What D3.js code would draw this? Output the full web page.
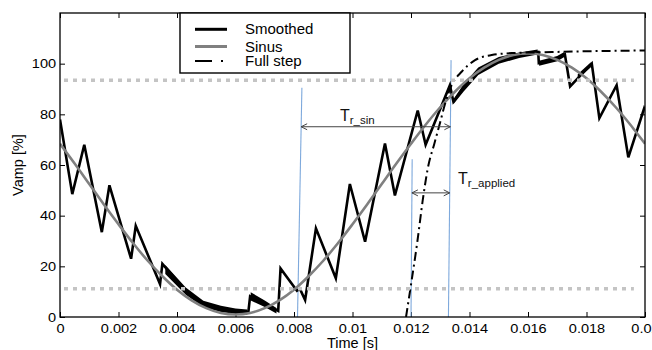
<!DOCTYPE html>
<html>
<head>
<meta charset="utf-8">
<script src="https://cdn.jsdelivr.net/npm/d3@7"></script>
<style>
  body { margin: 0; background: #fff; }
  svg { font-family: "Liberation Sans", Arial, Helvetica, sans-serif; }
</style>
</head>
<body>
<div id="chart"></div>
<script>
const xTicks = [0, 0.002, 0.004, 0.006, 0.008, 0.01, 0.012, 0.014, 0.016, 0.018, 0.02]
const yTicks = [0, 20, 40, 60, 80, 100]

const sinusT = [0, 0.0005, 0.001, 0.0015, 0.002, 0.0025, 0.003, 0.0035, 0.004, 0.0045,
    0.005, 0.0055, 0.006, 0.0065, 0.007, 0.0075, 0.008, 0.0085, 0.009, 0.0095,
    0.01, 0.0105, 0.011, 0.0115, 0.012, 0.0125, 0.013, 0.0135, 0.014, 0.0145,
    0.015, 0.0155, 0.016, 0.0165, 0.017, 0.0175, 0.018, 0.0185, 0.019, 0.0195, 0.02]
const sinusV = [68.4, 60.6, 52.5, 44.4, 36.6, 29.1, 22.2, 16.1, 10.8, 6.6,
    3.5, 1.6, 1.0, 1.6, 3.5, 6.6, 10.8, 16.1, 22.2, 29.1,
    36.6, 44.4, 52.5, 60.6, 68.4, 75.9, 82.8, 88.9, 94.2, 98.4,
    101.5, 103.4, 104.0, 103.4, 101.5, 98.4, 94.2, 88.9, 82.8, 75.9, 68.4]

const smoothedT = [0, 0.00042, 0.00083, 0.00143, 0.00169, 0.00243, 0.00259, 0.00342, 0.0035, 0.00376,
    0.0043, 0.0049, 0.0055, 0.006, 0.00644, 0.0065, 0.007, 0.00746, 0.00754, 0.0081,
    0.0082, 0.00838, 0.00875, 0.00943, 0.00991, 0.01043, 0.01111, 0.01145, 0.01223, 0.0125,
    0.01333, 0.01345, 0.0138, 0.0143, 0.015, 0.0157, 0.01635, 0.01637, 0.017, 0.01726,
    0.01744, 0.01818, 0.01844, 0.01903, 0.01943, 0.01997, 0.02]
const smoothedV = [78, 48.5, 68, 33.5, 52, 23, 36, 13, 21, 17.5,
    10.2, 5.1, 3.2, 2.3, 2.0, 8.2, 5.2, 2.4, 19.2, 10.4,
    11.2, 6.7, 35, 15.3, 52.5, 29.7, 68.5, 48, 81.5, 68,
    91.5, 85, 90.5, 97, 101.3, 103.3, 104.6, 100.2, 102, 103.7,
    91, 100, 78.5, 91.5, 63, 82.3, 81.5]

// noisy stretches of the smoothed trace: [t, low, high]
const noiseBands = [
    [[0.0036, 17, 20.5], [0.0043, 8.8, 11.6], [0.0049, 3.8, 6.4], [0.0055, 2.0, 4.4], [0.006, 1.2, 3.4], [0.0064, 0.9, 3.0]],
    [[0.00652, 6.5, 9.8], [0.007, 3.9, 6.5], [0.0074, 1.4, 3.6]],
    [[0.01345, 84, 86], [0.0138, 89, 92], [0.0143, 95.5, 98.5], [0.015, 100, 102.6], [0.0157, 102.2, 104.4], [0.01633, 103.6, 105.6]],
    [[0.01638, 99.2, 101.2], [0.017, 101, 103], [0.01724, 102.6, 104.6]],
    [[0.0177, 94, 95.8], [0.01815, 98.6, 100.6]]
]

const fullStepT = [0.01183, 0.01199, 0.01222, 0.0124, 0.01258, 0.0128, 0.013, 0.01316, 0.01339, 0.01373,
    0.01419, 0.01476, 0.0155, 0.0165, 0.018, 0.02]
const fullStepV = [0, 12, 30, 46, 59, 68.5, 77, 84, 91.5, 96.8,
    101.4, 103.4, 104.2, 104.5, 104.9, 105.2]

const thresholds = [11.2, 93.5]

// blue marker lines: bottom time, top time, top value
const markerBottomT = [0.00812, 0.01328, 0.012]
const markerTopT = [0.00827, 0.01337, 0.01204]
const markerTopV = [90.5, 101.4, 62.3]

const legendLabels = ['Smoothed', 'Sinus', 'Full step']

const width = 652
const height = 350
const margin = { top: 13, right: 7, bottom: 33, left: 60 }

const svg = d3.select('#chart')
    .append('svg')
    .attr('width', width)
    .attr('height', height)

const x = d3.scaleLinear().domain([0, 0.02]).range([margin.left, width - margin.right])
const y = d3.scaleLinear().domain([0, 120]).range([height - margin.bottom, margin.top])

const fmt = d3.format('~g')
const stretch = 'scale(1.12,1)'

svg.append('defs').append('clipPath')
    .attr('id', 'plot')
    .append('rect')
    .attr('x', x(0)).attr('y', y(120))
    .attr('width', x(0.02) - x(0)).attr('height', y(0) - y(120))

// axes
svg.append('g')
    .attr('transform', `translate(0,${y(0)})`)
    .call(d3.axisBottom(x).tickValues(xTicks).tickFormat(fmt).tickSizeInner(-5).tickSizeOuter(0).tickPadding(7))
    .call(g => g.select('.domain').remove())
    .call(g => g.selectAll('text').attr('font-size', 13).attr('fill', '#000').attr('transform', stretch))

svg.append('g')
    .attr('transform', `translate(${x(0)},0)`)
    .call(d3.axisLeft(y).tickValues(yTicks).tickSizeInner(-5).tickSizeOuter(0).tickPadding(3.5))
    .call(g => g.select('.domain').remove())
    .call(g => g.selectAll('text').attr('font-size', 13).attr('fill', '#000').attr('transform', stretch))

svg.append('g')
    .attr('transform', `translate(0,${y(120)})`)
    .call(d3.axisTop(x).tickValues(xTicks).tickFormat('').tickSizeInner(-5).tickSizeOuter(0))
    .call(g => g.select('.domain').remove())

svg.append('g')
    .attr('transform', `translate(${x(0.02)},0)`)
    .call(d3.axisRight(y).tickValues(yTicks).tickFormat('').tickSizeInner(-5).tickSizeOuter(0))
    .call(g => g.select('.domain').remove())

svg.selectAll('.tick line').attr('stroke', '#000').attr('stroke-width', 1)

const plot = svg.append('g').attr('clip-path', 'url(#plot)')

// blue marker lines
plot.selectAll('.marker')
    .data(markerBottomT)
    .enter()
    .append('line')
    .attr('x1', d => x(d))
    .attr('y1', y(0))
    .attr('x2', (d, i) => x(markerTopT[i]))
    .attr('y2', (d, i) => y(markerTopV[i]))
    .attr('stroke', '#7ea9dc')
    .attr('stroke-width', 1.1)

// smoothed trace
plot.selectAll('.band')
    .data(noiseBands)
    .enter()
    .append('path')
    .attr('d', d3.area().x(d => x(d[0])).y0(d => y(d[1])).y1(d => y(d[2])))
    .attr('fill', '#000')

plot.append('path')
    .datum(smoothedT.map((t, i) => [t, smoothedV[i]]))
    .attr('d', d3.line().x(d => x(d[0])).y(d => y(d[1])))
    .attr('fill', 'none')
    .attr('stroke', '#000')
    .attr('stroke-width', 2.6)

// sinus
plot.append('path')
    .datum(sinusT.map((t, i) => [t, sinusV[i]]))
    .attr('d', d3.line().curve(d3.curveCatmullRom).x(d => x(d[0])).y(d => y(d[1])))
    .attr('fill', 'none')
    .attr('stroke', '#808080')
    .attr('stroke-width', 2.6)

// full step
plot.append('path')
    .datum(fullStepT.map((t, i) => [t, fullStepV[i]]))
    .attr('d', d3.line().curve(d3.curveMonotoneX).x(d => x(d[0])).y(d => y(d[1])))
    .attr('fill', 'none')
    .attr('stroke', '#000')
    .attr('stroke-width', 2)
    .attr('stroke-dasharray', '9,4,2,4')

// 10% / 90% levels
plot.selectAll('.level')
    .data(thresholds)
    .enter()
    .append('line')
    .attr('x1', x(0) + 4)
    .attr('x2', x(0.01962))
    .attr('y1', d => y(d))
    .attr('y2', d => y(d))
    .attr('stroke', '#c4c4c4')
    .attr('stroke-width', 3.5)
    .attr('stroke-dasharray', '4,5')

// rise time arrows
function xAt(i, v) {
    return x(markerBottomT[i] + (markerTopT[i] - markerBottomT[i]) * v / markerTopV[i])
}

const arrows = [{ from: 0, to: 1, v: 75.1 }, { from: 2, to: 1, v: 49 }]
arrows.forEach(a => {
    const x1 = xAt(a.from, a.v)
    const x2 = xAt(a.to, a.v)
    const yy = y(a.v)
    const g = svg.append('g')
        .attr('fill', 'none')
        .attr('stroke', '#444')
        .attr('stroke-width', 1)
    g.append('line')
        .attr('x1', x1).attr('x2', x2)
        .attr('y1', yy).attr('y2', yy)
    g.append('path').attr('d', `M${x1 + 6},${yy - 3}L${x1},${yy}L${x1 + 6},${yy + 3}`)
    g.append('path').attr('d', `M${x2 - 6},${yy - 3}L${x2},${yy}L${x2 - 6},${yy + 3}`)
})

function label(px, py, sub) {
    const t = svg.append('text')
        .attr('x', px)
        .attr('y', py)
        .attr('font-size', 16)
        .attr('fill', '#111')
    t.append('tspan').text('T')
    t.append('tspan').attr('font-size', 11.5).attr('dy', 3.2).text(sub)
}
label(x(0.00957), y(77.3), 'r_sin')
label(x(0.01361), y(52.6), 'r_applied')

// frame
svg.append('rect')
    .attr('x', x(0))
    .attr('y', y(120))
    .attr('width', x(0.02) - x(0))
    .attr('height', y(0) - y(120))
    .attr('fill', 'none')
    .attr('stroke', '#000')
    .attr('stroke-width', 1.3)

// axis titles
svg.append('text')
    .attr('x', (x(0) + x(0.02)) / 2)
    .attr('y', height - 2)
    .attr('text-anchor', 'middle')
    .attr('font-size', 14.5)
    .text('Time [s]')

svg.append('text')
    .attr('transform', `translate(23,${(y(0) + y(120)) / 2}) rotate(-90)`)
    .attr('text-anchor', 'middle')
    .attr('font-size', 14.5)
    .text('Vamp [%]')

// legend
const legend = svg.append('g').attr('transform', 'translate(180,13)')
legend.append('rect')
    .attr('width', 170)
    .attr('height', 60)
    .attr('fill', '#fff')
    .attr('stroke', '#000')
    .attr('stroke-width', 1.4)

const legendRows = [16.3, 33.5, 48]
const legendStroke = ['#000', '#808080', '#000']
const legendDash = [null, null, '17,9,2,8']
legendLabels.forEach((name, i) => {
    legend.append('line')
        .attr('x1', 15).attr('x2', 47)
        .attr('y1', legendRows[i]).attr('y2', legendRows[i])
        .attr('stroke', legendStroke[i])
        .attr('stroke-width', i == 2 ? 2 : 3)
        .attr('stroke-dasharray', legendDash[i])
    legend.append('text')
        .attr('x', 65)
        .attr('y', legendRows[i] + 5)
        .attr('font-size', 15)
        .text(name)
})
</script>
</body>
</html>
